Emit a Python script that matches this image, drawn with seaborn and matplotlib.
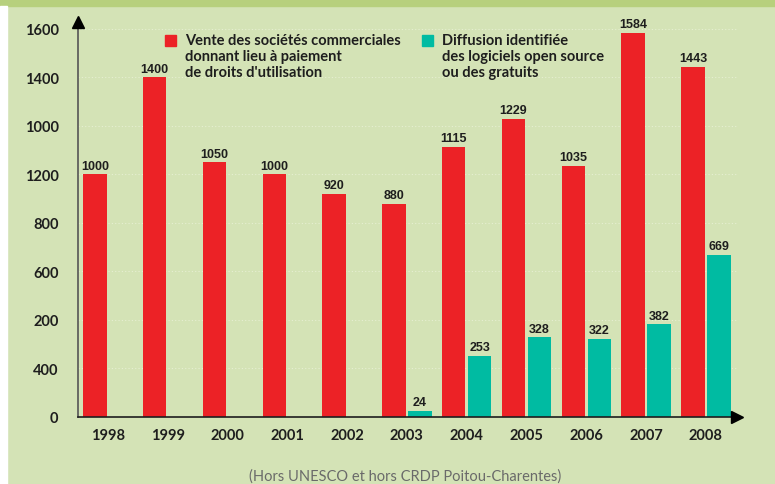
import pandas as pd
import seaborn as sns
import matplotlib.pyplot as plt
from matplotlib.patches import Rectangle

sns.set_style("white")

# %% Data

years = ['1998', '1999', '2000', '2001', '2002', '2003',
         '2004', '2005', '2006', '2007', '2008']
commercial = [1000, 1400, 1050, 1000, 920, 880, 1115, 1229, 1035, 1584, 1443]
open_source = [None, None, None, None, None, 24, 253, 328, 322, 382, 669]
series_names = ['commercial', 'open_source']
ytick_labels = ['0', '400', '200', '600', '800', '1200', '1000', '1400', '1600']

legend_red = "Vente des sociétés commerciales\ndonnant lieu à paiement\nde droits d'utilisation"
legend_green = "Diffusion identifiée\ndes logiciels open source\nou des gratuits"
footnote = "(Hors UNESCO et hors CRDP Poitou-Charentes)"

df = pd.DataFrame({'Année': years, 'commercial': commercial, 'open_source': open_source})
df = df.melt(id_vars='Année', var_name='Série', value_name='Valeur').dropna()

bg = '#d4e3b6'
red = '#ec2226'
teal = '#00bba2'
dark = '#1e1e1e'

# %% Plot

fig = plt.figure(figsize=(7.75, 4.85), dpi=100, facecolor=bg)
fig.patches.append(Rectangle((0, 1 - 7 / 485), 1, 7 / 485, transform=fig.transFigure,
                             color='#b7d07d', zorder=0))
fig.patches.append(Rectangle((0, 0), 7 / 775, 1 - 7 / 485, transform=fig.transFigure,
                             color='white', zorder=0))

ax = fig.add_axes([78 / 775, 67 / 485, 659 / 775, 395.3 / 485])
ax.set_facecolor(bg)

sns.barplot(data=df, x='Année', y='Valeur', hue='Série', hue_order=series_names,
            order=years, palette=[red, teal], width=0.87, gap=0.1,
            errorbar=None, legend=False, saturation=1, linewidth=0, ax=ax)

for cont in ax.containers:
    ax.bar_label(cont, fmt='%d', padding=2, fontsize=9, fontweight='bold',
                 color=dark, family=['Liberation Sans', 'DejaVu Sans'])

ax.set_xlim(-0.5, 10.52)
ax.set_ylim(0, 1630)
ax.set_yticks(range(0, 1601, 200))
ax.set_yticklabels(ytick_labels)
ax.set_xlabel('')
ax.set_ylabel('')

ax.set_axisbelow(True)
ax.yaxis.grid(True, color='#e6efd2', linestyle=(0, (1, 2)), linewidth=0.8)
ax.xaxis.grid(False)

sns.despine(ax=ax)
ax.spines['left'].set_color('#555555')
ax.spines['left'].set_linewidth(1.2)
ax.spines['bottom'].set_color(dark)
ax.spines['bottom'].set_linewidth(1.2)

ax.tick_params(axis='y', length=0, pad=14, labelsize=10.5, labelcolor=dark)
ax.tick_params(axis='x', which='major', length=0, pad=8, labelsize=10.5, labelcolor=dark)
ax.set_xticks([i + 0.5 for i in range(10)], minor=True)
ax.tick_params(axis='x', which='minor', direction='in', length=6.5, width=0.9, color='#444444')
for lab in ax.get_xticklabels() + ax.get_yticklabels():
    lab.set_family(['Lato', 'DejaVu Sans'])
    lab.set_fontweight('bold')

# arrows on the axes
ax.plot(-0.5, 1630, marker='^', ms=9, color='black', clip_on=False, zorder=5)
ax.plot(10.52, 0, marker='>', ms=9, color='black', clip_on=False, zorder=5)

# %% Legend and footnote

W, H = 775, 485
fig.patches.append(Rectangle((165 / W, 1 - 47 / H), 11 / W, 11 / H,
                             transform=fig.transFigure, color=red))
fig.text(185 / W, 1 - 34 / H, legend_red, ha='left', va='top', fontsize=10.5,
         fontweight='bold', color=dark, linespacing=1.18, family=['Lato', 'DejaVu Sans'])
fig.patches.append(Rectangle((422 / W, 1 - 47 / H), 11 / W, 11 / H,
                             transform=fig.transFigure, color=teal))
fig.text(442 / W, 1 - 34 / H, legend_green, ha='left', va='top', fontsize=10.5,
         fontweight='bold', color=dark, linespacing=1.18, family=['Lato', 'DejaVu Sans'])

fig.text(405 / W, 1 - 477 / H, footnote, ha='center', va='center', fontsize=10.5,
         color='#6a6a6a', family=['Lato', 'DejaVu Sans'])

fig.savefig('out.png', dpi=100, facecolor=bg)
